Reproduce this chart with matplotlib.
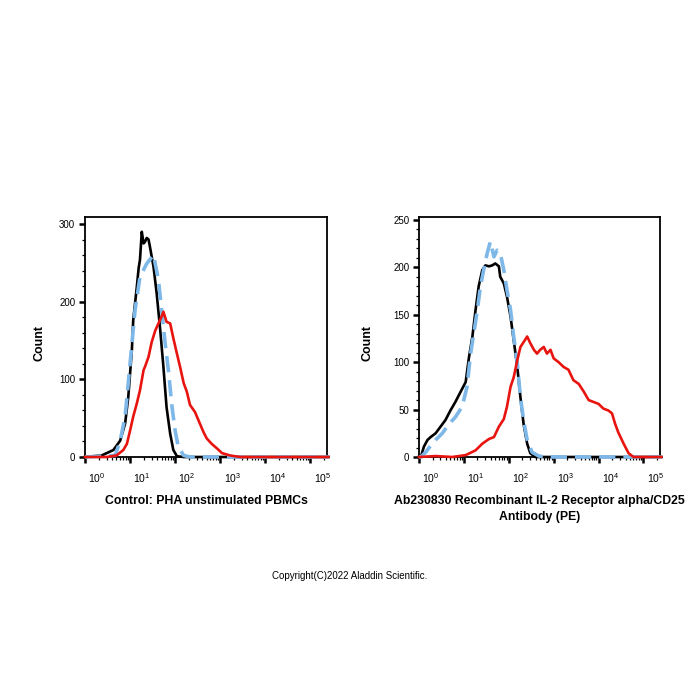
import numpy as np
import matplotlib
matplotlib.use("Agg")
import matplotlib.pyplot as plt
import matplotlib.transforms as mtransforms
from matplotlib.ticker import FixedLocator, NullFormatter

plt.rcParams["font.family"] = ["Liberation Sans", "DejaVu Sans"]
plt.rcParams["mathtext.fontset"] = "custom"
plt.rcParams["mathtext.rm"] = "Liberation Sans"

# --- left panel: control (log10 of fluorescence, count) ---
l_black_x = [0.0, 0.37, 0.63, 0.78, 0.89, 0.96, 1.04, 1.07, 1.15, 1.19, 1.22, 1.26, 1.30, 1.33, 1.37,
             1.41, 1.44, 1.52, 1.59, 1.67, 1.74, 1.81, 1.89, 1.96, 2.04, 2.19, 5.4]
l_black_y = [0, 2, 9, 21, 43, 77, 138, 176, 219, 243, 254, 290, 275, 277, 282,
             280, 271, 245, 211, 163, 116, 64, 30, 9, 1, 0, 0]

l_blue_x = [0.0, 0.67, 0.78, 0.89, 1.00, 1.11, 1.22, 1.37, 1.52, 1.63, 1.70, 1.78, 1.85, 1.93,
            2.00, 2.07, 2.19, 2.33, 5.4]
l_blue_y = [0, 2, 21, 52, 120, 189, 232, 249, 260, 228, 189, 146, 112, 65,
            34, 13, 2, 0, 0]

l_red_x = [0.0, 0.48, 0.70, 0.85, 0.93, 1.00, 1.07, 1.15, 1.22, 1.30, 1.33, 1.41, 1.48, 1.56, 1.63,
           1.70, 1.74, 1.81, 1.89, 1.96, 2.04, 2.11, 2.19, 2.26, 2.33, 2.44, 2.52, 2.63, 2.70,
           2.81, 2.93, 3.04, 3.22, 3.44, 5.4]
l_red_y = [0, 0, 2, 9, 17, 34, 52, 69, 86, 112, 116, 129, 148, 163, 172,
           181, 187, 174, 172, 153, 133, 116, 95, 84, 67, 58, 47, 32, 24,
           17, 11, 5, 2, 0, 0]

# --- right panel: CD25 stained ---
r_black_x = [0.0, 0.04, 0.11, 0.19, 0.26, 0.37, 0.48, 0.59, 0.70, 0.81, 0.93, 1.04, 1.11, 1.19, 1.26,
             1.33, 1.41, 1.48, 1.56, 1.63, 1.70, 1.78, 1.81, 1.89, 1.96, 2.04, 2.11, 2.19,
             2.26, 2.33, 2.41, 2.48, 2.59, 5.4]
r_black_y = [0, 0, 11, 18, 21, 25, 32, 39, 49, 58, 69, 79, 104, 127, 155,
             180, 197, 202, 201, 202, 204, 201, 190, 183, 169, 148, 123, 95,
             63, 35, 14, 4, 0, 0]

r_blue_x = [0.0, 0.04, 0.15, 0.26, 0.37, 0.52, 0.67, 0.81, 0.96, 1.07, 1.15, 1.22, 1.30, 1.37, 1.44,
            1.52, 1.59, 1.67, 1.74, 1.81, 1.89, 1.96, 2.04, 2.11, 2.19, 2.26, 2.33, 2.41,
            2.52, 2.67, 2.81, 5.4]
r_blue_y = [0, 0, 5, 12, 18, 25, 35, 42, 53, 74, 109, 130, 155, 180, 197,
            215, 227, 211, 218, 215, 197, 176, 155, 127, 99, 63, 39, 18,
            5, 1, 0, 0]

r_red_x = [0.0, 0.37, 0.74, 1.04, 1.26, 1.41, 1.56, 1.67, 1.78, 1.89, 1.96, 2.04, 2.11, 2.19, 2.26,
           2.33, 2.41, 2.48, 2.56, 2.63, 2.70, 2.78, 2.85, 2.93, 3.00, 3.11, 3.22, 3.33, 3.44,
           3.56, 3.67, 3.78, 3.89, 4.00, 4.11, 4.22, 4.30, 4.37, 4.44, 4.56, 4.67, 4.78, 5.4]
r_red_y = [0, 1, 0, 2, 7, 14, 19, 21, 32, 40, 53, 74, 84, 102, 116,
           121, 127, 120, 113, 109, 113, 116, 109, 113, 104, 100, 95, 92, 81,
           77, 69, 60, 58, 56, 51, 49, 46, 35, 26, 14, 4, 0, 0]

decades = [0, 1, 2, 3, 4, 5]
left_xlabel = "Control: PHA unstimulated PBMCs"
right_xlabel = "Ab230830 Recombinant IL-2 Receptor alpha/CD25\nAntibody (PE)"

fig = plt.figure(figsize=(7, 7), dpi=100)
ax1 = fig.add_axes([85 / 700, 243 / 700, 242 / 700, 240 / 700])
ax2 = fig.add_axes([419 / 700, 243 / 700, 241 / 700, 240 / 700])

blue = "#7db8e8"


def draw(ax, bx, by, cx, cy, rx, ry, ymax, yticks, yminor, xlabel, xlab_y, ylab_x):
    ax.plot(10 ** np.array(bx), by, color="black", lw=1.9, zorder=3, clip_on=False)
    ax.plot(10 ** np.array(cx), cy, color=blue, lw=2.6, ls=(0, (4.5, 2.2)), zorder=4, clip_on=False)
    ax.plot(10 ** np.array(rx), ry, color="#e8140f", lw=1.9, zorder=5, clip_on=False)
    ax.set_xscale("log")
    ax.set_xlim(1, 10 ** 5.37)
    ax.set_ylim(0, ymax)
    ax.xaxis.set_major_locator(FixedLocator([10.0 ** d for d in decades]))
    ax.set_xticklabels([r"$\mathregular{10^{%d}}$" % d for d in decades])
    minors = [m * 10.0 ** d for d in decades for m in range(2, 10)]
    ax.xaxis.set_minor_locator(FixedLocator(minors))
    ax.xaxis.set_minor_formatter(NullFormatter())
    ax.set_yticks(yticks)
    ax.yaxis.set_minor_locator(FixedLocator(yminor))
    for s in ax.spines.values():
        s.set_linewidth(1.3)
    ax.tick_params(which="major", direction="out", length=4, width=1.8, labelsize=7, pad=3)
    ax.tick_params(which="minor", direction="out", length=2.5, width=0.9)
    ax.tick_params(axis="x", which="major", pad=6, labelsize=7.5)
    shift = mtransforms.ScaledTranslation(0.12, 0, fig.dpi_scale_trans)
    for lab in ax.get_xticklabels():
        lab.set_transform(lab.get_transform() + shift)
    ax.set_xlabel(xlabel, fontsize=8.8, fontweight="bold", linespacing=1.45)
    ax.xaxis.set_label_coords(0.5, xlab_y)
    ax.set_ylabel("Count", fontsize=9, fontweight="bold")
    ax.yaxis.set_label_coords(ylab_x, 0.475)


draw(ax1, l_black_x, l_black_y, l_blue_x, l_blue_y, l_red_x, l_red_y, 309,
     [0, 100, 200, 300], list(range(0, 310, 20)), left_xlabel, -0.16, -0.165)
draw(ax2, r_black_x, r_black_y, r_blue_x, r_blue_y, r_red_x, r_red_y, 253,
     [0, 50, 100, 150, 200, 250], list(range(0, 255, 10)), right_xlabel, -0.16, -0.187)

fig.text(0.5, 1 - 576 / 700, "Copyright(C)2022 Aladdin Scientific.", ha="center", va="center", fontsize=7)

fig.savefig("out.png", dpi=100, facecolor="white")
